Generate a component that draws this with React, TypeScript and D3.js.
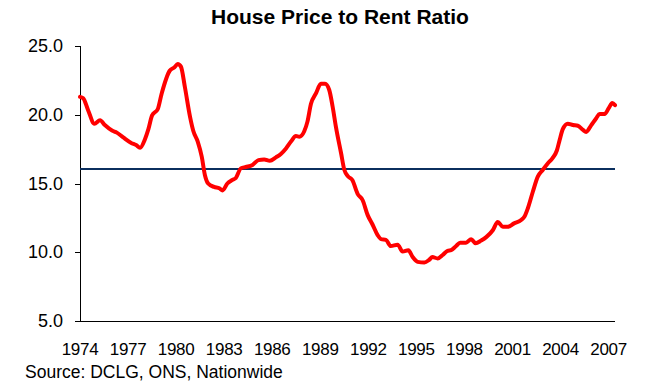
import React from "react"
import * as d3 from "d3"

const WIDTH = 664
const HEIGHT = 386
const FONT = "Arial, 'Liberation Sans', sans-serif"

// readings: year (decimal) and ratio
const years = [
	1974.0, 1974.2, 1974.5, 1974.9, 1975.25, 1975.55, 1976.0, 1976.3, 1976.7, 1977.2,
	1977.5, 1977.75, 1978.05, 1978.27, 1978.5, 1978.85, 1979.1, 1979.6, 1979.9, 1980.1,
	1980.3, 1980.55, 1980.87, 1981.08, 1981.35, 1981.6, 1981.8, 1982.0, 1982.37, 1982.7,
	1982.9, 1983.2, 1983.5, 1983.73, 1984.04, 1984.35, 1984.77, 1985.14, 1985.5, 1985.85,
	1986.23, 1986.54, 1986.86, 1987.17, 1987.48, 1987.69, 1988.0, 1988.2, 1988.42, 1988.73,
	1989.04, 1989.3, 1989.56, 1989.77, 1989.98, 1990.3, 1990.5, 1990.75, 1991.0, 1991.33,
	1991.64, 1991.96, 1992.27, 1992.58, 1992.8, 1993.1, 1993.4, 1993.83, 1994.14, 1994.5,
	1994.77, 1995.08, 1995.5, 1995.8, 1996.0, 1996.33, 1996.64, 1996.95, 1997.17, 1997.48,
	1997.73, 1998.1, 1998.42, 1998.7, 1999.04, 1999.36, 1999.77, 2000.08, 2000.4, 2000.7,
	2001.1, 2001.54, 2001.75, 2001.96, 2002.27, 2002.58, 2002.9, 2003.2, 2003.5, 2003.77,
	2003.94, 2004.14, 2004.45, 2004.77, 2005.08, 2005.4, 2005.6, 2005.92, 2006.23, 2006.44,
	2006.75, 2007.02, 2007.23, 2007.4,
]

const ratio = [
	21.3, 21.2, 20.35, 19.35, 19.6, 19.25, 18.85, 18.7, 18.35, 17.95,
	17.8, 17.6, 18.2, 18.95, 19.95, 20.4, 21.55, 23.2, 23.45, 23.7,
	23.5, 22.0, 19.85, 18.8, 18.05, 16.95, 15.6, 15.0, 14.75, 14.65,
	14.5, 15.0, 15.25, 15.4, 16.1, 16.2, 16.35, 16.7, 16.75, 16.65,
	16.9, 17.15, 17.55, 18.05, 18.45, 18.4, 18.8, 19.5, 20.8, 21.55,
	22.25, 22.25, 21.8, 20.6, 19.1, 17.2, 16.0, 15.5, 15.25, 14.25,
	13.8, 12.7, 12.0, 11.25, 10.95, 10.9, 10.45, 10.55, 10.05, 10.15,
	9.65, 9.3, 9.25, 9.45, 9.65, 9.55, 9.8, 10.1, 10.15, 10.45,
	10.7, 10.7, 10.95, 10.65, 10.85, 11.1, 11.6, 12.2, 11.85, 11.85,
	12.1, 12.35, 12.6, 13.2, 14.4, 15.5, 16.0, 16.45, 16.85, 17.4,
	18.15, 18.95, 19.35, 19.25, 19.2, 18.9, 18.75, 19.25, 19.75, 20.05,
	20.05, 20.5, 20.85, 20.7,
]

// long-run average line
const averageRatio = 16.05

const xTickYears = [1974, 1977, 1980, 1983, 1986, 1989, 1992, 1995, 1998, 2001, 2004, 2007]
const yTicks = [5, 10, 15, 20, 25]

const margin = { top: 46, right: 49, bottom: 65, left: 80 }

const App = () => {
	const x = d3
		.scaleLinear()
		.domain([1974, 2007.4])
		.range([margin.left, WIDTH - margin.right])

	const y = d3
		.scaleLinear()
		.domain([5, 25])
		.range([HEIGHT - margin.bottom, margin.top])

	const points: [number, number][] = years.map((yr, i) => [yr, ratio[i]])

	const line = d3
		.line<[number, number]>()
		.x((d) => x(d[0]))
		.y((d) => y(d[1]))
		.curve(d3.curveMonotoneX)

	const [x0, x1] = x.range()
	const yBase = y(5)

	return (
		<div style={{ position: "absolute", left: 0, top: 0 }}>
			<svg width={WIDTH} height={HEIGHT} style={{ display: "block", background: "#fff" }}>
				<text
					x={340}
					y={24}
					textAnchor="middle"
					fontFamily={FONT}
					fontWeight="bold"
					fontSize={21}
					fill="#000"
				>
					House Price to Rent Ratio
				</text>

				{/* y axis */}
				<line x1={x0 + 0.5} x2={x0 + 0.5} y1={y(25)} y2={yBase} stroke="#000" strokeWidth={1} />
				{yTicks.map((t) => (
					<g key={t}>
						<line x1={x0 - 5} x2={x0} y1={Math.round(y(t)) + 0.5} y2={Math.round(y(t)) + 0.5} stroke="#000" />
						<text
							x={63}
							y={y(t) + 6}
							textAnchor="end"
							fontFamily={FONT}
							fontSize={18}
							fill="#000"
						>
							{t.toFixed(1)}
						</text>
					</g>
				))}

				{/* x axis */}
				<line x1={x0} x2={x1} y1={Math.round(yBase) + 0.5} y2={Math.round(yBase) + 0.5} stroke="#000" strokeWidth={1} />
				{xTickYears.map((t) => (
					<text
						key={t}
						x={x(t)}
						y={355}
						textAnchor="middle"
						fontFamily={FONT}
						fontSize={17}
						letterSpacing={-0.3}
						fill="#000"
					>
						{t}
					</text>
				))}

				<line
					x1={x0}
					x2={x1}
					y1={y(averageRatio)}
					y2={y(averageRatio)}
					stroke="#0b2f5e"
					strokeWidth={2}
				/>

				<path
					d={line(points) ?? ""}
					fill="none"
					stroke="#ff0000"
					strokeWidth={4}
					strokeLinejoin="round"
					strokeLinecap="round"
				/>

				<text x={25} y={378} fontFamily={FONT} fontSize={17.5} fill="#000">
					Source: DCLG, ONS, Nationwide
				</text>
			</svg>
		</div>
	)
}

export default App
